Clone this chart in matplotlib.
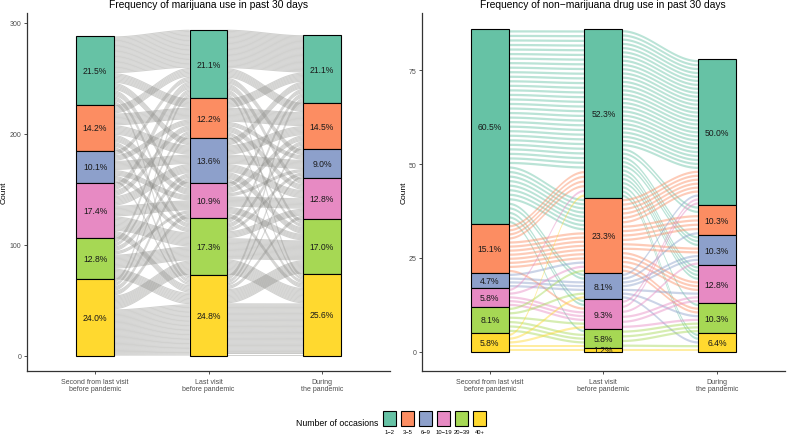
import numpy as np
import matplotlib
matplotlib.use('Agg')
import matplotlib.pyplot as plt
from matplotlib.patches import Rectangle
from matplotlib.collections import PolyCollection

plt.rcParams['font.family'] = ['Liberation Sans', 'DejaVu Sans']

# categories (top of stack first)
levels = ['1\u22122', '3\u22125', '6\u22129', '10\u221219', '20\u221239', '40+']
level_colors = ['#66C2A5', '#FC8D62', '#8DA0CB', '#E78AC3', '#A6D854', '#FFD92F']
visits = ['Second from last visit\nbefore pandemic', 'Last visit\nbefore pandemic', 'During\nthe pandemic']

# marijuana: counts per visit, per level
mj_counts = [[62, 41, 29, 50, 37, 69],
             [62, 36, 40, 32, 51, 73],
             [61, 42, 26, 37, 49, 74]]
# transitions visit1 -> visit2 (rows = from, cols = to)
mj_flow_12 = [[30, 8, 6, 5, 4, 3],
              [7, 10, 8, 6, 4, 3],
              [4, 5, 8, 5, 4, 2],
              [6, 5, 8, 9, 12, 6],
              [4, 3, 4, 3, 12, 9],
              [3, 3, 4, 4, 12, 40]]
mj_flow_23 = [[32, 8, 5, 5, 4, 3],
              [8, 12, 4, 5, 3, 2],
              [6, 8, 8, 7, 6, 3],
              [4, 5, 3, 9, 6, 4],
              [4, 4, 3, 6, 18, 13],
              [4, 3, 2, 3, 12, 44]]

# non-marijuana drugs
nm_counts = [[52, 13, 4, 5, 7, 5],
             [45, 20, 7, 8, 5, 1],
             [39, 8, 8, 10, 8, 5]]
nm_flow_12 = [[30, 8, 2, 2, 1, 0],
              [4, 7, 0, 1, 0, 0],
              [0, 1, 3, 0, 0, 0],
              [1, 1, 0, 3, 0, 0],
              [0, 1, 1, 1, 3, 0],
              [1, 0, 1, 1, 1, 1]]
nm_flow_23 = [[28, 2, 3, 4, 1, 2],
              [6, 4, 2, 3, 2, 0],
              [1, 1, 2, 1, 1, 1],
              [2, 0, 1, 2, 1, 0],
              [0, 0, 0, 0, 3, 1],
              [0, 0, 0, 0, 0, 1]]

W, H = 791, 435
fig = plt.figure(figsize=(W / 100, H / 100), dpi=100)


def px_axes(x0, x1, ytop, ybot):
    return fig.add_axes([x0 / W, 1 - ybot / H, (x1 - x0) / W, (ybot - ytop) / H])


def bottoms(c):
    return [sum(c[i + 1:]) for i in range(len(c))]


def curve(x0, x1, y0, y1, n=40):
    t = np.linspace(0, 1, n)
    s = t * t * (3 - 2 * t)
    return x0 + (x1 - x0) * t, y0 + (y1 - y0) * s


def draw_panel(ax, counts, flows, gray, th, alpha):
    w = 1 / 3
    for a in range(2):
        T = np.array(flows[a])
        b0, c0 = bottoms(counts[a]), counts[a]
        b1, c1 = bottoms(counts[a + 1]), counts[a + 1]
        # unit slots spread over each stratum
        out_pos, in_pos = {}, {}
        for i in range(6):
            n = T[i].sum()
            slot = c0[i] / n if n else 1
            m = 0
            for j in reversed(range(6)):
                out_pos[(i, j)] = [b0[i] + (m + k) * slot + slot / 2 for k in range(T[i, j])]
                m += T[i, j]
        for j in range(6):
            n = T[:, j].sum()
            slot = c1[j] / n if n else 1
            m = 0
            for i in reversed(range(6)):
                in_pos[(i, j)] = [b1[j] + (m + k) * slot + slot / 2 for k in range(T[i, j])]
                m += T[i, j]
        polys, cols = [], []
        xa, xb = a + 1 + w / 2, a + 2 - w / 2
        for i in range(6):
            for j in range(6):
                for ys, yd in zip(out_pos[(i, j)], in_pos[(i, j)]):
                    xs, lo = curve(xa, xb, ys - th / 2, yd - th / 2)
                    _, hi = curve(xa, xb, ys + th / 2, yd + th / 2)
                    polys.append(np.column_stack([np.r_[xs, xs[::-1]], np.r_[lo, hi[::-1]]]))
                    cols.append(gray if gray else level_colors[i])
        ax.add_collection(PolyCollection(polys, facecolors=cols, edgecolors='none',
                                         alpha=alpha, zorder=1))
    for a in range(3):
        c = counts[a]
        b = bottoms(c)
        tot = sum(c)
        for i in range(6):
            ax.add_patch(Rectangle((a + 1 - w / 2, b[i]), w, c[i], facecolor=level_colors[i],
                                   edgecolor='black', lw=0.8, zorder=3))
            ax.text(a + 1, b[i] + c[i] / 2, '%.1f%%' % (100 * c[i] / tot), ha='center',
                    va='center', fontsize=6.2, color='#1a1a1a', zorder=4)


def style(ax, ylim, yticks, title, labx):
    ax.set_xlim(0.4, 3.6)
    ax.set_ylim(*ylim)
    ax.set_yticks(yticks)
    ax.set_xticks([1, 2, 3])
    ax.set_xticklabels(visits, fontsize=5, color='#4d4d4d', linespacing=1.0)
    ax.tick_params(axis='y', labelsize=5, labelcolor='#4d4d4d', length=2.5, width=0.6, color='#333333', pad=1.5)
    ax.tick_params(axis='x', length=2.5, width=0.6, color='#333333', pad=2.5)
    for s in ['top', 'right']:
        ax.spines[s].set_visible(False)
    for s in ['left', 'bottom']:
        ax.spines[s].set_color('#333333')
        ax.spines[s].set_linewidth(0.9)
    ax.set_ylabel('Count', fontsize=6)
    ax.yaxis.set_label_coords(labx, 0.5)
    ax.set_title(title, fontsize=7.4, pad=4)


ax1 = px_axes(27, 390, 14, 372.3)
draw_panel(ax1, mj_counts, [mj_flow_12, mj_flow_23], '#8c8c88', 1.0, 0.4)
style(ax1, (-14.1, 309), [0, 100, 200, 300], 'Frequency of marijuana use in past 30 days', -0.053)

ax2 = px_axes(421.7, 785, 14, 372.3)
draw_panel(ax2, nm_counts, [nm_flow_12, nm_flow_23], None, 0.6, 0.45)
style(ax2, (-5.2, 90.3), [0, 25, 50, 75], 'Frequency of non\u2212marijuana drug use in past 30 days', -0.04)

# legend
fig.text(378 / W, 1 - 423.5 / H, 'Number of occasions', ha='right', va='center', fontsize=6.3)
for i, (lab, col) in enumerate(zip(levels, level_colors)):
    x0 = 383 + 18 * i
    fig.add_artist(Rectangle((x0 / W, 1 - 426.5 / H), 13.3 / W, 14.3 / H, facecolor=col,
                             edgecolor='black', lw=0.8, transform=fig.transFigure))
    fig.text((x0 + 6.65) / W, 1 - 432.3 / H, lab, ha='center', va='center', fontsize=4.2)

fig.savefig('out.png', dpi=100)
